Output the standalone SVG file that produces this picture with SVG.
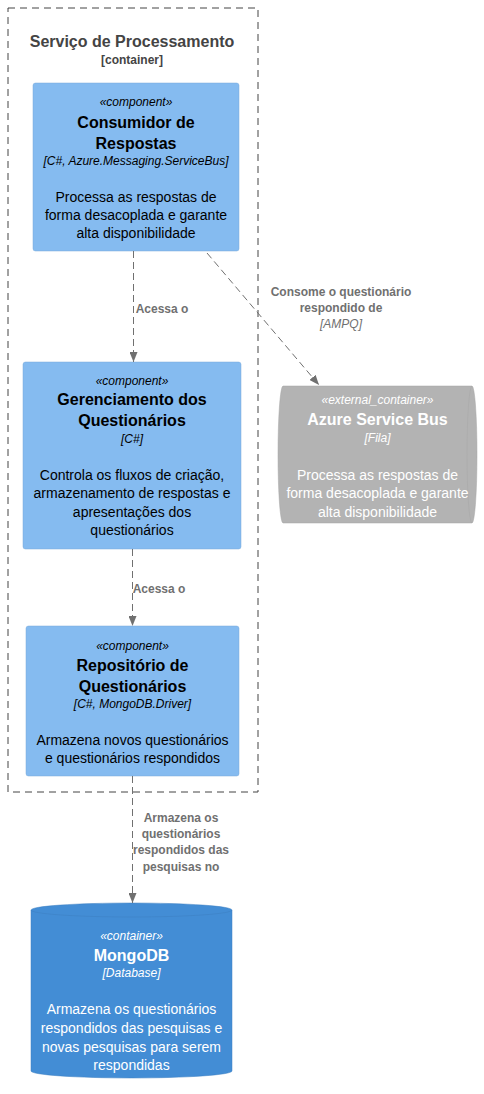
<svg xmlns="http://www.w3.org/2000/svg" width="484" height="1094" viewBox="0 0 484 1094">
<style>
text{font-family:"Liberation Sans",Arial,sans-serif;text-anchor:middle}
.st{font-size:12px;font-style:italic}
.tt{font-size:16px;font-weight:bold}
.ds{font-size:14px}
.comp{fill:#85BBF0;stroke:#78A8D8;stroke-width:0.5}
.dark{fill:#000}
.white{fill:#fff}
.lbl{font-size:12px;font-weight:bold;fill:#707070}
.lbli{font-size:12px;font-style:italic;fill:#707070}
.conn{stroke:#707070;stroke-width:1;fill:none;stroke-dasharray:7,4;marker-end:url(#arr)}
</style>
<defs>
<marker id="arr" viewBox="0 0 10 8" refX="10" refY="4" markerWidth="10" markerHeight="8" markerUnits="userSpaceOnUse" orient="auto">
<path d="M0,0 L10,4 L0,8 z" fill="#707070"/>
</marker>
</defs>
<rect width="484" height="1094" fill="#fff"/>

<g id="boundary">
<rect x="8" y="8" width="250" height="784" fill="none" stroke="#444" stroke-width="1" stroke-dasharray="7,5"/>
<text x="132" y="47" class="tt" fill="#444">Serviço de Processamento</text>
<text x="132" y="64" font-size="12" font-weight="bold" fill="#444">[container]</text>
</g>

<g id="consumidor">
<rect class="comp" x="33" y="83" width="206" height="168" rx="2.5"/>
<text x="136" y="106" class="st dark">«component»</text>
<text x="136" y="128" class="tt dark">Consumidor de</text>
<text x="136" y="149" class="tt dark">Respostas</text>
<text x="136" y="165" class="st dark">[C#, Azure.Messaging.ServiceBus]</text>
<text x="136" y="202" class="ds dark">Processa as respostas de</text>
<text x="136" y="220" class="ds dark">forma desacoplada e garante</text>
<text x="136" y="238" class="ds dark">alta disponibilidade</text>
</g>

<g id="gerenciamento">
<rect class="comp" x="23" y="362" width="218" height="187" rx="2.5"/>
<text x="132" y="385" class="st dark">«component»</text>
<text x="132" y="405" class="tt dark">Gerenciamento dos</text>
<text x="132" y="426" class="tt dark">Questionários</text>
<text x="132" y="443" class="st dark">[C#]</text>
<text x="132" y="480" class="ds dark">Controla os fluxos de criação,</text>
<text x="132" y="498" class="ds dark">armazenamento de respostas e</text>
<text x="132" y="517" class="ds dark">apresentações dos</text>
<text x="132" y="535" class="ds dark">questionários</text>
</g>

<g id="repositorio">
<rect class="comp" x="26" y="626" width="213" height="150" rx="2.5"/>
<text x="132.5" y="650" class="st dark">«component»</text>
<text x="132.5" y="671" class="tt dark">Repositório de</text>
<text x="132.5" y="692" class="tt dark">Questionários</text>
<text x="132.5" y="708" class="st dark">[C#, MongoDB.Driver]</text>
<text x="132.5" y="745" class="ds dark">Armazena novos questionários</text>
<text x="132.5" y="763" class="ds dark">e questionários respondidos</text>
</g>

<g id="servicebus">
<path d="M283,386 h189 a5,68.5 0 0 1 0,137 h-189 a5,68.5 0 0 1 0,-137 z" fill="#B3B3B3" stroke="#A6A6A6" stroke-width="0.5"/>
<path d="M472,386 a5,68.5 0 0 0 0,137" fill="none" stroke="#A6A6A6" stroke-width="0.5"/>
<text x="377.5" y="404" class="st white">«external_container»</text>
<text x="377.5" y="425" class="tt white">Azure Service Bus</text>
<text x="377.5" y="442" class="st white">[Fila]</text>
<text x="377.5" y="480" class="ds white">Processa as respostas de</text>
<text x="377.5" y="498" class="ds white">forma desacoplada e garante</text>
<text x="377.5" y="517" class="ds white">alta disponibilidade</text>
</g>

<g id="mongodb">
<path d="M31,910 a100.5,7 0 0 1 201,0 v161 a100.5,7 0 0 1 -201,0 z" fill="#438DD5" stroke="#3C7FC0" stroke-width="0.5"/>
<path d="M31,910 a100.5,7 0 0 0 201,0" fill="none" stroke="#3C7FC0" stroke-width="0.5"/>
<text x="131.5" y="940" class="st white">«container»</text>
<text x="131.5" y="961" class="tt white">MongoDB</text>
<text x="131.5" y="977" class="st white">[Database]</text>
<text x="131.5" y="1014" class="ds white">Armazena os questionários</text>
<text x="131.5" y="1033" class="ds white">respondidos das pesquisas e</text>
<text x="131.5" y="1052" class="ds white">novas pesquisas para serem</text>
<text x="131.5" y="1070" class="ds white">respondidas</text>
</g>

<g id="connectors">
<line class="conn" x1="133.5" y1="251" x2="133.5" y2="362"/>
<text x="162" y="313" class="lbl">Acessa o</text>
<line class="conn" x1="132.5" y1="549" x2="132.5" y2="626"/>
<text x="159" y="593" class="lbl">Acessa o</text>
<line class="conn" x1="132.5" y1="776" x2="132.5" y2="903"/>
<text x="181" y="822" class="lbl">Armazena os</text>
<text x="181" y="838" class="lbl">questionários</text>
<text x="181" y="854" class="lbl">respondidos das</text>
<text x="181" y="871" class="lbl">pesquisas no</text>
<line class="conn" x1="207" y1="253" x2="319" y2="385"/>
<text x="341" y="296" class="lbl">Consome o questionário</text>
<text x="341" y="312" class="lbl">respondido de</text>
<text x="341" y="328" class="lbli">[AMPQ]</text>
</g>
</svg>
